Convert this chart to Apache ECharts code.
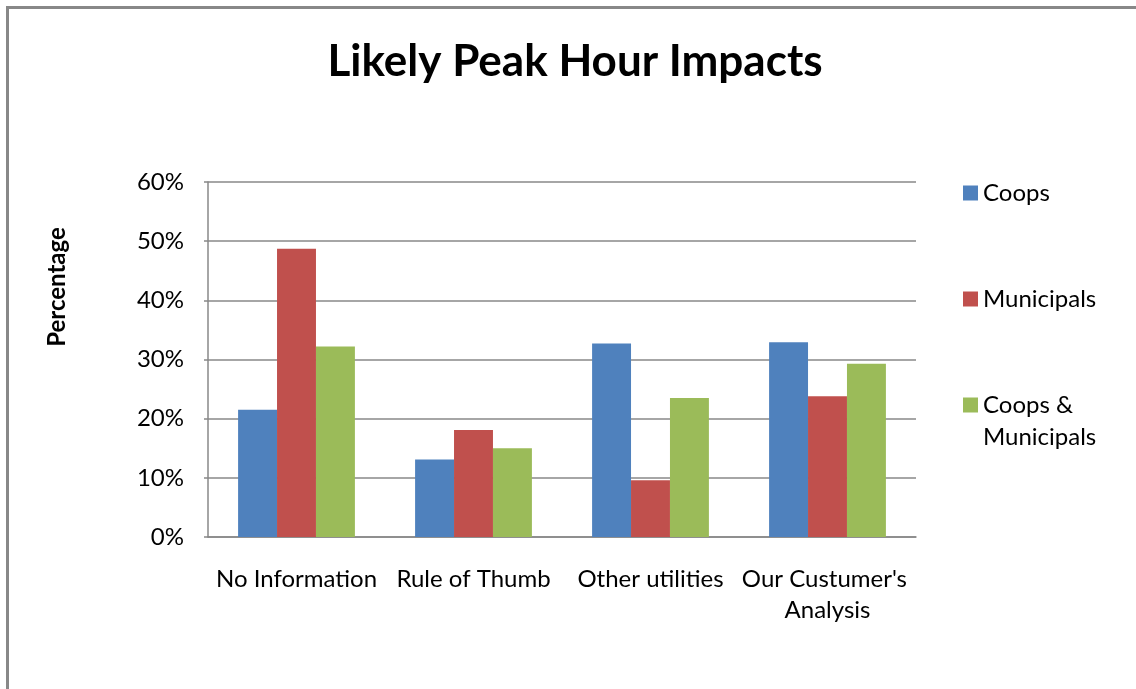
<!DOCTYPE html>
<html>
<head>
<meta charset="utf-8">
<script src="https://cdn.jsdelivr.net/npm/echarts@6/dist/echarts.min.js"></script>
<style>
  html, body { margin: 0; padding: 0; background: #fff; }
  #chart { width: 1136px; height: 689px; }
</style>
</head>
<body>
<div id="chart"></div>
<script>
var categories = ["No Information", "Rule of Thumb", "Other utilities", "Our Custumer's Analysis"];
var coops = [21.5, 13.1, 32.7, 32.9];
var municipals = [48.7, 18.1, 9.6, 23.8];
var coopsMunicipals = [32.2, 15.0, 23.5, 29.3];
var yTicks = [0, 10, 20, 30, 40, 50, 60];

var font = "Lato, 'Open Sans', sans-serif";
var gridColor = "#888888";

var chart = echarts.init(document.getElementById("chart"));

var legendText = { fontSize: 24, lineHeight: 32, color: "#000", fontFamily: font };

chart.setOption({
  animation: false,
  textStyle: { fontFamily: font, color: "#000" },
  title: {
    text: "Likely Peak Hour Impacts",
    left: 570,
    textAlign: "center",
    top: 35,
    textStyle: { fontSize: 44, fontWeight: "bold", color: "#000", fontFamily: font }
  },
  // three legends so each entry sits where the original puts it
  legend: [
    {
      data: ["Coops"], left: 958, top: 172, orient: "vertical",
      icon: "rect", itemWidth: 15, itemHeight: 15, textStyle: legendText
    },
    {
      data: ["Municipals"], left: 958, top: 278, orient: "vertical",
      icon: "rect", itemWidth: 15, itemHeight: 15, textStyle: legendText
    },
    {
      data: ["Coops & Municipals"], left: 958, top: 352, orient: "vertical",
      icon: "rect", itemWidth: 15, itemHeight: 15, textStyle: legendText,
      // leading blank line keeps the marker level with the first text line
      formatter: function (name) { return "\nCoops &\nMunicipals"; }
    }
  ],
  grid: { left: 208, right: 220, top: 182, bottom: 152 },
  xAxis: {
    type: "category",
    data: categories,
    axisLine: { lineStyle: { color: gridColor, width: 1.5 } },
    axisTick: { show: false },
    axisLabel: {
      interval: 0, margin: 27, fontSize: 24, lineHeight: 31, color: "#000",
      width: 175, overflow: "break", fontFamily: font
    }
  },
  yAxis: {
    type: "value",
    min: 0, max: 60, interval: 10,
    axisLine: { show: true, lineStyle: { color: gridColor, width: 1.5 } },
    axisTick: { show: true, length: 4, lineStyle: { color: gridColor, width: 1.5 } },
    splitLine: { lineStyle: { color: gridColor, width: 1.5 } },
    axisLabel: {
      margin: 24, fontSize: 24, color: "#000", fontFamily: font,
      formatter: function (v) { return yTicks.indexOf(v) >= 0 ? v + "%" : ""; }
    }
  },
  graphic: [
    {
      type: "rect", z: -10, silent: true,
      shape: { x: 7.5, y: 7.5, width: 2000, height: 2000 },
      style: { fill: "none", stroke: "#888888", lineWidth: 3 }
    },
    {
      type: "text", x: 57, y: 287, rotation: Math.PI / 2,
      style: {
        text: "Percentage", fontSize: 24, fontWeight: "bold", fontFamily: font,
        fill: "#000", align: "center", verticalAlign: "middle"
      }
    }
  ],
  series: [
    { name: "Coops", type: "bar", data: coops, barGap: "0%", barCategoryGap: "34%",
      itemStyle: { color: "#4F81BD" } },
    { name: "Municipals", type: "bar", data: municipals, barGap: "0%", barCategoryGap: "34%",
      itemStyle: { color: "#C0504D" } },
    { name: "Coops & Municipals", type: "bar", data: coopsMunicipals, barGap: "0%", barCategoryGap: "34%",
      itemStyle: { color: "#9BBB59" } }
  ]
});
</script>
</body>
</html>
